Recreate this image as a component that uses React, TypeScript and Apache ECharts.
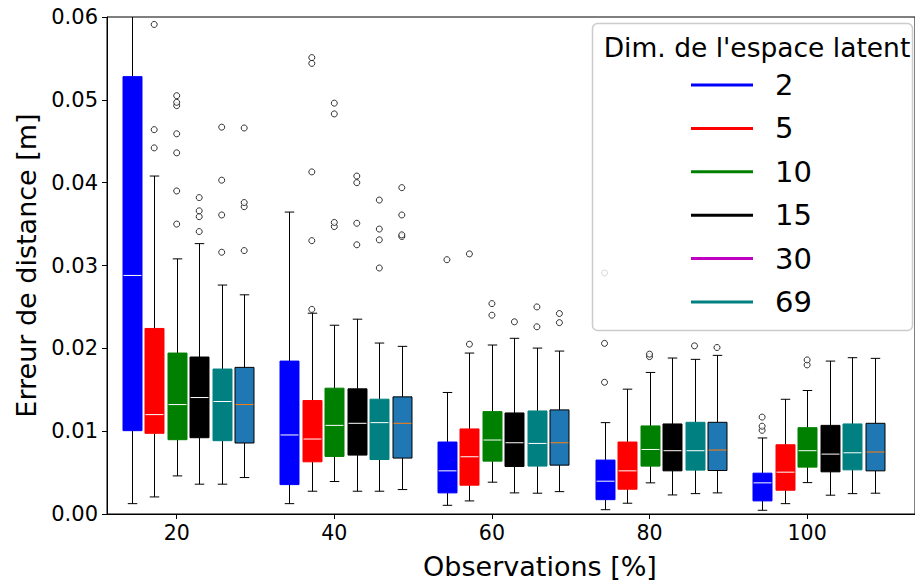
import React, { useEffect, useRef } from "react";
import * as echarts from "echarts";

// Observation percentages (x groups)
const groups = [20, 40, 60, 80, 100];
const yTicks = [0, 0.01, 0.02, 0.03, 0.04, 0.05, 0.06];

// Latent dimensions
const dims = ["2", "5", "10", "15", "30", "69"];
const boxColors = ["#0000ff", "#ff0000", "#008000", "#000000", "#008080", "#1f77b4"];
const edgeColors = ["#0000ff", "#ff0000", "#008000", "#000000", "#008080", "#000000"];
const medianColors = ["#ffffff", "#ffffff", "#ffffff", "#ffffff", "#ffffff", "#ff7f0e"];
const legendColors = ["#0000ff", "#ff0000", "#008000", "#000000", "#bf00bf", "#008080"];

// [lower whisker, Q1, median, Q3, upper whisker] per group (20,40,60,80,100)
const stats2 = [
  [0.00125, 0.01006, 0.0288, 0.0528, 0.065],
  [0.00125, 0.00355, 0.00954, 0.01846, 0.03645],
  [0.00105, 0.00255, 0.00521, 0.00869, 0.01467],
  [0.00052, 0.00173, 0.00396, 0.00651, 0.01103],
  [0.00045, 0.00158, 0.00376, 0.00493, 0.00918],
];
const stats5 = [
  [0.00206, 0.00974, 0.012, 0.0224, 0.0408],
  [0.00275, 0.0063, 0.00905, 0.0137, 0.02424],
  [0.00158, 0.00348, 0.00691, 0.01027, 0.01943],
  [0.0013, 0.00299, 0.00521, 0.00869, 0.01507],
  [0.00125, 0.00287, 0.00505, 0.00836, 0.01385],
];
const stats10 = [
  [0.0046, 0.00897, 0.01321, 0.01943, 0.0308],
  [0.00392, 0.00695, 0.0107, 0.01519, 0.02279],
  [0.00384, 0.00638, 0.00893, 0.01236, 0.0204],
  [0.00376, 0.00578, 0.00779, 0.01063, 0.01709],
  [0.00379, 0.00566, 0.00764, 0.01042, 0.01491],
];
const stats15 = [
  [0.0036, 0.00921, 0.01406, 0.01895, 0.03264],
  [0.00275, 0.00711, 0.01095, 0.01511, 0.02352],
  [0.00255, 0.00574, 0.0086, 0.0122, 0.02121],
  [0.0023, 0.00521, 0.00764, 0.01087, 0.01883],
  [0.00227, 0.00509, 0.00723, 0.0107, 0.01846],
];
const stats30 = [
  [0.0036, 0.00885, 0.01358, 0.0175, 0.02764],
  [0.00275, 0.00658, 0.01103, 0.01386, 0.02064],
  [0.00251, 0.00578, 0.00852, 0.01244, 0.02003],
  [0.00246, 0.0053, 0.00764, 0.01107, 0.01867],
  [0.00246, 0.00533, 0.00739, 0.01087, 0.01887],
];
const stats69 = [
  [0.0044, 0.00857, 0.01321, 0.0177, 0.02646],
  [0.00295, 0.00675, 0.01095, 0.01414, 0.02024],
  [0.0027, 0.0059, 0.0086, 0.01257, 0.01967],
  [0.00255, 0.00525, 0.00772, 0.01107, 0.01915],
  [0.00251, 0.00521, 0.00748, 0.01095, 0.01879],
];

// Outliers per group (20,40,60,80,100)
const out2 = [[], [], [0.0307], [0.0159, 0.0206, 0.0291], [0.0101, 0.0106, 0.0117]];
const out5 = [[0.0442, 0.0464, 0.0591], [0.0247, 0.033, 0.0413, 0.0544, 0.0551], [0.0205, 0.0314], [], []];
const out10 = [
  [0.035, 0.039, 0.0436, 0.0459, 0.0493, 0.0497, 0.0505],
  [0.0347, 0.0352, 0.0483, 0.0496],
  [0.024, 0.0254],
  [0.019, 0.0193],
  [0.018, 0.0186],
];
const out15 = [[0.0341, 0.0359, 0.0366, 0.0382], [0.0325, 0.0351, 0.04, 0.0408], [0.0232], [], []];
const out30 = [[0.0316, 0.0361, 0.0403, 0.0467], [0.0297, 0.0331, 0.0344, 0.0379], [0.0226, 0.025], [0.0203], []];
const out69 = [[0.0318, 0.0371, 0.0376, 0.0466], [0.0335, 0.0337, 0.0361, 0.0394], [0.0231, 0.0242], [0.0201], []];

const allStats = [stats2, stats5, stats10, stats15, stats30, stats69];
const allOutliers = [out2, out5, out10, out15, out30, out69];

const STEP = 2.855; // spacing between boxes within a group (x units)
const BOXW = 2.41; // box width (x units)
const FONT = "DejaVu Sans";

export default function App() {
  const ref = useRef<HTMLDivElement>(null);

  useEffect(() => {
    if (!ref.current) return;
    const chart = echarts.init(ref.current, undefined, { renderer: "svg" });

    const boxSeries = dims.map((name, i) => ({
      name,
      type: "custom",
      clip: true,
      z: 3,
      itemStyle: { color: boxColors[i] },
      encode: { x: 0, y: [1, 2, 3, 4, 5] },
      data: groups.map((g, gi) => [g, ...allStats[i][gi]]),
      renderItem: (params: any, api: any) => {
        const x = api.value(0) + (i - 2) * STEP;
        const cx = Math.round(api.coord([x, 0])[0]) + 0.5;
        const yLow = api.coord([x, api.value(1)])[1];
        const yQ1 = api.coord([x, api.value(2)])[1];
        const yMed = api.coord([x, api.value(3)])[1];
        const yQ3 = api.coord([x, api.value(4)])[1];
        const yHigh = api.coord([x, api.value(5)])[1];
        const w = api.size([BOXW, 0])[0];
        const cap = w / 2;
        const lineStyle = { stroke: "#000", lineWidth: 1 };
        return {
          type: "group",
          children: [
            { type: "line", shape: { x1: cx, y1: yLow, x2: cx, y2: yQ1 }, style: lineStyle },
            { type: "line", shape: { x1: cx, y1: yQ3, x2: cx, y2: yHigh }, style: lineStyle },
            { type: "line", shape: { x1: cx - cap / 2, y1: yLow, x2: cx + cap / 2, y2: yLow }, style: lineStyle },
            { type: "line", shape: { x1: cx - cap / 2, y1: yHigh, x2: cx + cap / 2, y2: yHigh }, style: lineStyle },
            {
              type: "rect",
              shape: { x: cx - w / 2, y: yQ3, width: w, height: yQ1 - yQ3 },
              style: { fill: boxColors[i], stroke: edgeColors[i], lineWidth: 1 },
            },
            {
              type: "line",
              shape: { x1: cx - w / 2 + 0.5, y1: yMed, x2: cx + w / 2 - 0.5, y2: yMed },
              style: { stroke: medianColors[i], lineWidth: 1 },
            },
          ],
        };
      },
    }));

    const outlierData: number[][] = [];
    allOutliers.forEach((series, i) => {
      series.forEach((vals, gi) => {
        vals.forEach((v) => outlierData.push([groups[gi] + (i - 2) * STEP, v]));
      });
    });

    const option: any = {
      animation: false,
      backgroundColor: "#ffffff",
      textStyle: { fontFamily: FONT },
      grid: {
        left: 107,
        top: 17,
        right: 0,
        bottom: 74,
        show: true,
        borderColor: "#000",
        borderWidth: 1,
        backgroundColor: "transparent",
      },
      xAxis: {
        type: "value",
        min: 11.155,
        max: 113.69,
        name: "Observations [%]",
        nameLocation: "middle",
        nameGap: 39,
        nameTextStyle: { fontSize: 27, color: "#000", fontFamily: FONT, padding: [0, 0, 0, 58] },
        splitLine: { show: false },
        axisLine: { show: true, lineStyle: { color: "#000", width: 1 } },
        axisTick: { show: true, customValues: groups, length: 5, lineStyle: { color: "#000" } },
        axisLabel: {
          customValues: groups,
          fontSize: 20.5,
          color: "#000",
          margin: 8,
          fontFamily: FONT,
        },
      },
      yAxis: {
        type: "value",
        min: 0,
        max: 0.06,
        interval: 0.01,
        name: "Erreur de distance [m]",
        nameLocation: "middle",
        nameGap: 60,
        nameTextStyle: { fontSize: 27, color: "#000", fontFamily: FONT },
        splitLine: { show: false },
        axisLine: { show: true, lineStyle: { color: "#000", width: 1 } },
        axisTick: { show: true, length: 5, lineStyle: { color: "#000" } },
        axisLabel: {
          fontSize: 21,
          color: "#000",
          margin: 9,
          fontFamily: FONT,
          formatter: (v: number) => {
            const t = yTicks.find((k) => Math.abs(k - v) < 1e-9);
            return (t !== undefined ? t : v).toFixed(2);
          },
        },
      },
      legend: {
        show: true,
        orient: "vertical",
        left: 691,
        top: 70,
        padding: 0,
        z: 20,
        itemWidth: 62,
        itemHeight: 3,
        itemGap: 13.4,
        icon: "rect",
        selectedMode: false,
        textStyle: { fontSize: 29, color: "#000", lineHeight: 30, padding: [0, 0, 0, 17], fontFamily: FONT },
        data: dims.map((d, i) => ({
          name: d,
          itemStyle: { color: legendColors[i], borderWidth: 0 },
        })),
      },
      graphic: [
        {
          type: "rect",
          z: 10,
          shape: { x: 592.5, y: 23.5, width: 320, height: 307, r: 5 },
          style: { fill: "rgba(255,255,255,0.8)", stroke: "#cccccc", lineWidth: 1.5 },
        },
        {
          type: "text",
          z: 20,
          x: 757,
          y: 47,
          style: {
            text: "Dim. de l'espace latent",
            fontSize: 26.5,
            fontFamily: FONT,
            fill: "#000",
            align: "center",
            verticalAlign: "middle",
          },
        },
      ],
      series: [
        ...boxSeries,
        {
          name: "outliers",
          type: "scatter",
          z: 4,
          symbol: "circle",
          symbolSize: 6,
          itemStyle: { color: "#ffffff", borderColor: "#000", borderWidth: 1 },
          data: outlierData,
          clip: true,
        },
      ],
    };

    chart.setOption(option);
    return () => chart.dispose();
  }, []);

  return (
    <div
      ref={ref}
      style={{ position: "fixed", left: 0, top: 0, width: 915, height: 588 }}
    />
  );
}
